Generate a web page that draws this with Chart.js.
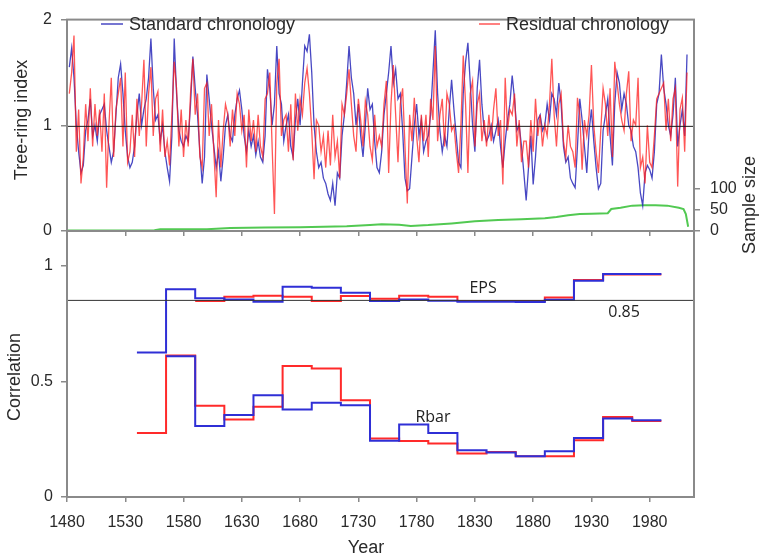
<!DOCTYPE html>
<html>
<head>
<meta charset="utf-8">
<script src="https://cdn.jsdelivr.net/npm/chart.js@4.4.1/dist/chart.umd.min.js"></script>
<style>
  body { margin: 0; background: #fff; }
  #wrap { position: relative; width: 759px; height: 558px; }
  canvas { position: absolute; left: 0; top: 0; }
</style>
</head>
<body>
<div id="wrap">
  <canvas id="indexChart" width="759" height="558"></canvas>
  <canvas id="corrChart" width="759" height="558"></canvas>
</div>
<script>
// chronologies, one value every 2nd year starting 1482
const firstYear = 1482;
const yearStep = 2;
const standardChron = [
  1.55, 1.73, 1.45, 1.0, 0.75,
  0.55, 0.62, 0.95, 1.05, 1.25,
  0.9, 1.0, 0.85, 1.1, 1.15,
  1.2, 0.95, 0.8, 0.65, 0.75,
  1.1, 1.45, 1.58, 1.3, 0.95,
  0.7, 0.6, 0.65, 0.8, 1.1,
  1.3, 1.0, 1.15, 1.25, 1.45,
  1.82, 1.35, 1.05, 1.1, 0.85,
  1.0, 0.75, 0.6, 0.47, 0.9,
  1.82, 1.3, 0.95, 0.85, 0.8,
  0.9, 0.85, 1.2, 1.65, 1.35,
  1.1, 0.75, 0.45, 0.7, 1.48,
  1.25, 1.0, 0.8, 0.6, 0.75,
  0.47, 0.7, 1.0, 1.1, 0.9,
  0.85, 1.1, 1.25, 1.33, 1.15,
  0.9, 0.75, 0.95, 0.8, 0.9,
  0.72, 0.85, 0.7, 0.65, 0.9,
  1.53, 1.35, 1.0, 1.2, 1.75,
  1.3, 1.2, 0.85, 1.0, 1.1,
  0.8, 0.7, 1.05, 1.25, 1.0,
  1.4, 1.75, 1.7, 1.86, 1.5,
  1.0, 0.75, 0.6, 0.65, 0.5,
  0.45, 0.35, 0.29, 0.45, 0.24,
  0.55, 0.5, 0.9, 1.1, 1.4,
  1.75, 1.45, 1.3, 1.0, 1.2,
  0.9, 0.7, 1.0, 1.35, 1.15,
  1.2, 0.85, 0.6, 0.55, 0.75,
  1.1, 1.3, 1.5, 1.75, 1.4,
  1.53, 1.25, 1.3, 0.95, 0.5,
  0.38, 0.4, 0.7, 1.0, 1.2,
  0.9, 1.05, 0.75, 0.85, 0.9,
  1.1, 1.5, 1.9, 1.3, 0.95,
  0.75, 0.9, 0.8, 1.15, 1.43,
  1.15, 0.9, 0.65, 0.6, 1.3,
  1.6, 1.78, 1.4, 1.0, 0.75,
  1.35, 1.62, 1.2, 0.95, 0.85,
  0.9, 1.0, 0.85, 0.95, 1.05,
  0.8, 0.6, 0.85, 1.05, 1.2,
  1.47, 1.25, 0.95, 1.0, 0.8,
  0.55, 0.29, 0.6, 0.9, 0.44,
  0.7, 1.05, 1.1, 0.95, 1.0,
  1.2, 1.05, 1.3, 1.25, 1.1,
  1.4, 1.2, 0.8, 0.65, 0.7,
  0.5, 0.45, 0.41, 0.8, 1.25,
  1.05, 0.8, 0.55, 0.95, 1.15,
  0.85, 0.6, 0.4, 0.45, 0.95,
  1.1, 1.25, 0.9, 0.62, 1.2,
  1.5, 1.4, 1.15, 1.3, 1.2,
  1.0, 0.95, 0.8, 0.75, 0.6,
  0.36, 0.24, 0.55, 0.62, 0.58,
  0.5, 0.75, 1.2, 1.3, 1.67,
  1.35, 1.2, 1.0, 0.9, 1.1,
  1.45, 0.8, 1.0, 1.15, 0.9,
  1.67
];
const residualChron = [
  1.3, 1.5, 1.85, 0.75, 1.15,
  0.45, 0.7, 1.2, 0.85, 1.35,
  0.8, 1.2, 0.9, 1.15, 0.75,
  1.3, 0.41, 1.0, 1.45, 0.7,
  1.15, 1.3, 1.45, 0.8, 1.5,
  0.65, 0.75, 1.1, 0.7, 1.25,
  0.9, 1.2, 1.62, 0.8, 1.3,
  1.55, 0.9, 1.25, 1.32, 0.75,
  1.15, 0.7, 0.85, 0.62, 1.1,
  1.6, 1.35, 0.8, 1.15, 0.7,
  1.05, 0.8, 1.3, 1.63, 1.1,
  1.3, 0.7, 0.6, 1.35, 1.4,
  0.9, 1.2, 0.75, 0.32, 1.05,
  0.6, 0.95, 1.2, 1.1, 0.8,
  1.15, 0.9, 1.3, 1.2, 0.95,
  1.1, 0.6, 1.15, 0.85, 1.05,
  0.75, 1.1, 0.8, 0.7, 1.25,
  1.3, 1.5, 0.8, 0.16, 1.4,
  1.63, 0.9, 1.05, 1.1, 0.75,
  1.2, 0.67, 1.3, 0.95, 1.25,
  1.1, 1.4, 1.54, 1.3, 0.95,
  0.49, 1.05, 1.0, 0.75, 0.9,
  0.6, 0.95, 0.62, 1.1, 0.7,
  0.85, 0.5, 1.2, 1.1, 1.3,
  1.53, 1.2, 0.9, 0.75, 1.25,
  1.05, 0.8, 1.23, 1.1, 0.8,
  0.67, 1.1, 0.8, 0.9, 0.8,
  1.2, 1.42, 0.55, 1.2, 1.57,
  1.1, 0.65, 1.2, 1.35, 0.8,
  0.26, 1.1, 0.85, 1.26, 0.9,
  0.65, 1.1, 0.85, 1.1, 0.7,
  1.25, 1.05, 1.75, 0.85, 1.1,
  1.25, 0.8, 1.3, 1.2, 0.95,
  1.0, 0.75, 0.55, 1.0, 1.66,
  1.2, 0.55, 1.3, 1.42, 0.8,
  1.2, 1.3, 0.85, 1.05, 0.8,
  1.1, 0.85, 1.15, 1.35, 0.9,
  1.05, 0.44, 1.45, 0.95, 1.15,
  1.1, 1.3, 0.8, 1.05, 0.65,
  0.85, 0.85, 0.6, 1.05, 0.75,
  1.25, 0.9, 1.1, 0.8, 1.0,
  0.9, 1.2, 1.63, 1.1, 0.8,
  1.2, 1.3, 0.85, 0.7, 1.0,
  0.8, 0.75, 0.6, 1.26, 1.1,
  0.58, 1.05, 0.9, 1.1, 1.57,
  1.0, 0.75, 0.55, 0.95, 1.35,
  1.2, 0.9, 1.35, 0.7, 1.6,
  1.4, 1.2, 1.05, 0.95, 1.3,
  1.51, 0.85, 1.05, 1.0, 1.45,
  0.6, 0.7, 0.45, 1.0, 0.65,
  0.6, 0.9, 1.25, 1.3, 1.35,
  1.4, 0.95, 1.25, 0.85, 1.25,
  1.35, 0.42, 1.15, 1.26, 0.75,
  1.5
];
const meanIndex = 0.99;

const sampleYears = [1480, 1500, 1530, 1555, 1560, 1600, 1620, 1650, 1680, 1700, 1720, 1740, 1750, 1765, 1775, 1790, 1810, 1830, 1850, 1870, 1890, 1900, 1910, 1920, 1930, 1944, 1947, 1955, 1965, 1975, 1985, 1995, 2005, 2009, 2011, 2013];
const sampleSize = [1, 1, 1, 2, 4, 4, 7, 8, 9, 10, 11, 14, 16, 15, 12, 14, 18, 23, 26, 28, 30, 33, 37, 40, 41, 42, 52, 55, 60, 61, 61, 60, 55, 52, 40, 10];

// 25-year windows (last entry closes the final window)
const windowStarts = [1540, 1565, 1590, 1615, 1640, 1665, 1690, 1715, 1740, 1765, 1790, 1815, 1840, 1865, 1890, 1915, 1940, 1965, 1990];
const epsStandard = [0.625, 0.898, 0.859, 0.854, 0.844, 0.909, 0.905, 0.883, 0.847, 0.854, 0.848, 0.844, 0.844, 0.843, 0.853, 0.935, 0.964, 0.964, 0.964];
const epsResidual = [null, null, 0.847, 0.866, 0.870, 0.866, 0.847, 0.869, 0.857, 0.870, 0.866, 0.847, 0.847, 0.847, 0.863, 0.938, 0.962, 0.962, 0.962];
const rbarStandard = [null, 0.609, 0.307, 0.354, 0.440, 0.378, 0.408, 0.397, 0.243, 0.313, 0.277, 0.202, 0.192, 0.176, 0.198, 0.255, 0.339, 0.332, 0.332];
const rbarResidual = [0.277, 0.612, 0.394, 0.335, 0.390, 0.566, 0.556, 0.418, 0.253, 0.242, 0.231, 0.188, 0.195, 0.176, 0.176, 0.245, 0.346, 0.329, 0.329];
const epsThreshold = 0.85;

const yearTicks = [1480, 1530, 1580, 1630, 1680, 1730, 1780, 1830, 1880, 1930, 1980];
const yearMin = 1480;
const yearMax = 2018;
const indexTicks = [0, 1, 2];
const sampleTicks = [0, 50, 100];
const corrTicks = [0, 0.5, 1];

let frameColor = '#8a8a8a';
let labelColor = '#2a2a2a';
let blue = 'rgba(40,40,185,0.85)';
let red = 'rgba(255,30,30,0.75)';
let stepBlue = '#2f2fd6';
let stepRed = '#ff2a2a';
let green = '#52c952';
const axisFont = { family: "'Liberation Sans', Arial, sans-serif", size: 16 };
const titleFont = "18px 'Liberation Sans', Arial, sans-serif";

function toPoints(xs, ys) {
  return ys.map((v, i) => ({ x: xs[i], y: v }));
}

const chronYears = standardChron.map((v, i) => firstYear + i * yearStep);

function fixedTicks(values) {
  return scale => { scale.ticks = values.map(v => ({ value: v })); };
}

function plainLabel(value) {
  return String(value);
}

function tickGrid(len) {
  return { display: true, drawOnChartArea: false, drawTicks: true, tickLength: len, color: frameColor, lineWidth: 1.5 };
}

function drawRotated(ctx, text, x, y) {
  ctx.save();
  ctx.translate(x, y);
  ctx.rotate(-Math.PI / 2);
  ctx.fillText(text, 0, 0);
  ctx.restore();
}

const framePlugin = {
  id: 'frame',
  afterDraw(chart) {
    const a = chart.chartArea;
    const ctx = chart.ctx;
    ctx.save();
    ctx.strokeStyle = frameColor;
    ctx.lineWidth = 2;
    ctx.strokeRect(a.left, a.top, a.right - a.left, a.bottom - a.top);
    ctx.restore();
  }
};

const indexText = {
  id: 'indexText',
  afterDraw(chart) {
    const ctx = chart.ctx;
    ctx.save();
    ctx.fillStyle = labelColor;
    ctx.font = titleFont;
    ctx.textAlign = 'center';
    ctx.textBaseline = 'middle';
    drawRotated(ctx, 'Tree-ring index', 22, 120);
    drawRotated(ctx, 'Sample size', 750, 205);

    // legend inside the plot
    ctx.textAlign = 'left';
    ctx.lineWidth = 1.5;
    ctx.strokeStyle = blue;
    ctx.beginPath(); ctx.moveTo(101, 24); ctx.lineTo(123, 24); ctx.stroke();
    ctx.fillText('Standard chronology', 129, 25);
    ctx.strokeStyle = red;
    ctx.beginPath(); ctx.moveTo(479, 24); ctx.lineTo(500, 24); ctx.stroke();
    ctx.fillText('Residual chronology', 506, 25);
    ctx.restore();
  }
};

const corrText = {
  id: 'corrText',
  afterDraw(chart) {
    const ctx = chart.ctx;
    const xs = chart.scales.x;
    const ys = chart.scales.y;
    ctx.save();
    ctx.fillStyle = labelColor;
    ctx.font = titleFont;
    ctx.textAlign = 'center';
    ctx.textBaseline = 'middle';
    drawRotated(ctx, 'Correlation', 15, 377);
    ctx.fillText('Year', 366, 548);

    ctx.font = "16px 'Open Sans', sans-serif";
    ctx.fillStyle = '#222';
    ctx.fillText('EPS', xs.getPixelForValue(1837), ys.getPixelForValue(0.90));
    ctx.fillText('Rbar', xs.getPixelForValue(1794), ys.getPixelForValue(0.342));
    ctx.fillText('0.85', xs.getPixelForValue(1958), ys.getPixelForValue(0.80));
    ctx.restore();
  }
};

Chart.defaults.font.family = axisFont.family;

// top panel: chronologies + sample size
new Chart(document.getElementById('indexChart'), {
  type: 'line',
  data: {
    datasets: [
      {
        data: [{ x: yearMin, y: meanIndex }, { x: yearMax, y: meanIndex }],
        borderColor: '#1a1a1a', borderWidth: 1, pointRadius: 0, order: 0
      },
      {
        label: 'Residual chronology',
        data: toPoints(chronYears, residualChron),
        borderColor: red, borderWidth: 1.3, pointRadius: 0, order: 1
      },
      {
        label: 'Standard chronology',
        data: toPoints(chronYears, standardChron),
        borderColor: blue, borderWidth: 1.3, pointRadius: 0, order: 2
      },
      {
        label: 'Sample size',
        data: toPoints(sampleYears, sampleSize),
        yAxisID: 'y1',
        borderColor: green, borderWidth: 2, pointRadius: 0, order: 3
      }
    ]
  },
  options: {
    responsive: false,
    animation: false,
    devicePixelRatio: 1,
    layout: { padding: { top: 15, bottom: 317, left: 0, right: 0 } },
    plugins: { legend: { display: false }, tooltip: { enabled: false } },
    scales: {
      x: {
        type: 'linear', min: yearMin, max: yearMax,
        afterBuildTicks: fixedTicks(yearTicks),
        afterFit: s => { s.height = 10; },
        grid: tickGrid(5),
        border: { display: true, color: frameColor, width: 2 },
        ticks: { display: false }
      },
      y: {
        min: 0, max: 2,
        afterBuildTicks: fixedTicks(indexTicks),
        afterFit: s => { s.width = 67; },
        grid: tickGrid(6),
        border: { display: true, color: frameColor, width: 2 },
        ticks: { padding: 9, color: labelColor, font: axisFont, callback: plainLabel }
      },
      y1: {
        position: 'right', min: 0, max: 500,
        afterBuildTicks: fixedTicks(sampleTicks),
        afterFit: s => { s.width = 65; },
        grid: tickGrid(6),
        border: { display: true, color: frameColor, width: 2 },
        ticks: { padding: 10, color: labelColor, font: axisFont, callback: plainLabel }
      }
    }
  },
  plugins: [framePlugin, indexText]
});

// bottom panel: EPS and Rbar in 25-year windows
new Chart(document.getElementById('corrChart'), {
  type: 'line',
  data: {
    datasets: [
      {
        data: [{ x: yearMin, y: epsThreshold }, { x: yearMax, y: epsThreshold }],
        borderColor: '#333', borderWidth: 1, pointRadius: 0, order: 0
      },
      {
        label: 'EPS standard',
        data: toPoints(windowStarts, epsStandard),
        stepped: true, borderColor: stepBlue, borderWidth: 2, pointRadius: 0, order: 1
      },
      {
        label: 'Rbar standard',
        data: toPoints(windowStarts, rbarStandard),
        stepped: true, borderColor: stepBlue, borderWidth: 2, pointRadius: 0, order: 2
      },
      {
        label: 'EPS residual',
        data: toPoints(windowStarts, epsResidual),
        stepped: true, borderColor: stepRed, borderWidth: 2, pointRadius: 0, order: 3
      },
      {
        label: 'Rbar residual',
        data: toPoints(windowStarts, rbarResidual),
        stepped: true, borderColor: stepRed, borderWidth: 2, pointRadius: 0, order: 4
      }
    ]
  },
  options: {
    responsive: false,
    animation: false,
    devicePixelRatio: 1,
    layout: { padding: { top: 231, bottom: 0, left: 0, right: 65 } },
    plugins: { legend: { display: false }, tooltip: { enabled: false } },
    scales: {
      x: {
        type: 'linear', min: yearMin, max: yearMax,
        afterBuildTicks: fixedTicks(yearTicks),
        afterFit: s => { s.height = 61; },
        grid: tickGrid(5),
        border: { display: true, color: frameColor, width: 2 },
        ticks: { padding: 11, color: labelColor, font: axisFont, maxRotation: 0, autoSkip: false, callback: plainLabel }
      },
      y: {
        min: 0, max: 1.15,
        afterBuildTicks: fixedTicks(corrTicks),
        afterFit: s => { s.width = 67; },
        grid: tickGrid(6),
        border: { display: true, color: frameColor, width: 2 },
        ticks: { padding: 8, color: labelColor, font: axisFont, callback: plainLabel }
      }
    }
  },
  plugins: [framePlugin, corrText]
});
</script>
</body>
</html>
